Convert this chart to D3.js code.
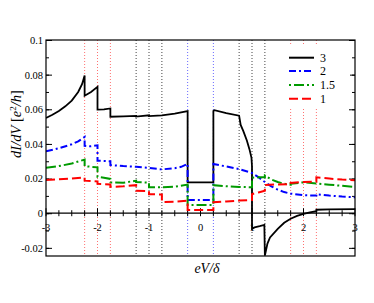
<html>
  <meta charset="utf-8" />
  <script src="https://d3js.org/d3.v7.min.js"></script>
  <style>
    body { margin: 0; background: #fff; }
    text { font-family: "Liberation Serif", "DejaVu Serif", serif; }
  </style>
  <body>
    <svg width="374" height="303" id="chart"></svg>

    <script>
      // series: [eV/delta, dI/dV]
      const black3 = [
        [-3, 0.055], [-2.875, 0.0568], [-2.75, 0.059], [-2.625, 0.0617], [-2.5, 0.065],
        [-2.375, 0.07], [-2.3, 0.0745], [-2.25, 0.0795],
        [-2.25, 0.0678], [-2.125, 0.07], [-2, 0.073],
        [-2, 0.0598], [-1.875, 0.06], [-1.75, 0.0605],
        [-1.75, 0.0557], [-1.5, 0.0559], [-1.25, 0.0562], [-1.25, 0.0558], [-1, 0.0565],
        [-1, 0.0561], [-0.75, 0.0565], [-0.5, 0.0575], [-0.25, 0.059],
        [-0.25, 0.0178], [0.25, 0.0178],
        [0.25, 0.059], [0.27, 0.0595], [0.5, 0.0578], [0.75, 0.0563],
        [0.78, 0.051], [0.83, 0.0475], [0.9, 0.042], [0.95, 0.037], [0.99, 0.032], [1.0, 0.027],
        [1.0, -0.009], [1.05, -0.0082], [1.15, -0.0075], [1.24, -0.0068],
        [1.25, -0.0245], [1.3, -0.0175], [1.35, -0.014], [1.5, -0.009], [1.625, -0.0055],
        [1.75, -0.0032], [1.875, -0.0015], [2, -0.0004], [2.125, 0.0005], [2.25, 0.0012],
        [2.25, 0.002], [2.5, 0.0022], [3, 0.0024]
      ];
      const blue2 = [
        [-3, 0.0357], [-2.75, 0.0375], [-2.5, 0.0398], [-2.375, 0.0415], [-2.25, 0.044],
        [-2.25, 0.0389], [-2.125, 0.0386], [-2, 0.0392],
        [-2, 0.0303], [-1.875, 0.0302], [-1.75, 0.03],
        [-1.75, 0.0278], [-1.5, 0.0272], [-1.25, 0.0268], [-1, 0.0261], [-0.75, 0.0253],
        [-0.5, 0.026], [-0.375, 0.0268], [-0.25, 0.0285],
        [-0.25, 0.0077], [0.25, 0.0077],
        [0.25, 0.0284], [0.5, 0.027], [0.75, 0.0255], [1, 0.0232], [1.125, 0.0208],
        [1.25, 0.018], [1.375, 0.0155], [1.5, 0.0136], [1.625, 0.0122], [1.75, 0.0113],
        [2, 0.0104], [2.25, 0.0102], [2.25, 0.011], [2.5, 0.0102], [2.75, 0.0096], [3, 0.0092]
      ];
      const green15 = [
        [-3, 0.0262], [-2.75, 0.0272], [-2.5, 0.0287], [-2.25, 0.031],
        [-2.25, 0.0272], [-2.125, 0.0268], [-2, 0.0265],
        [-2, 0.021], [-1.875, 0.0205], [-1.75, 0.0198],
        [-1.75, 0.0178], [-1.5, 0.0176], [-1.25, 0.0188],
        [-1.25, 0.018], [-1, 0.0177],
        [-1, 0.015], [-0.75, 0.015], [-0.5, 0.0153], [-0.25, 0.0165],
        [-0.25, 0.0048], [0.25, 0.0048],
        [0.25, 0.0162], [0.5, 0.0156], [0.75, 0.0152], [1, 0.015],
        [1, 0.0205], [1.125, 0.0207], [1.25, 0.0208], [1.25, 0.0218], [1.375, 0.0195],
        [1.5, 0.018], [1.625, 0.017], [1.75, 0.0164], [1.75, 0.017], [2, 0.0178],
        [2.25, 0.0172], [2.5, 0.0165], [2.75, 0.0158], [3, 0.0152]
      ];
      const red1 = [
        [-3, 0.0192], [-2.75, 0.0196], [-2.5, 0.02], [-2.25, 0.0207],
        [-2.25, 0.0188], [-2.125, 0.0186], [-2, 0.0184],
        [-2, 0.017], [-1.875, 0.0168], [-1.75, 0.0166],
        [-1.75, 0.0152], [-1.5, 0.0155], [-1.25, 0.0162],
        [-1.25, 0.013], [-1, 0.0128],
        [-1, 0.011], [-0.75, 0.0108],
        [-0.75, 0.0065], [-0.5, 0.0066], [-0.25, 0.0072],
        [-0.25, 0.0018], [0.25, 0.0018],
        [0.25, 0.0064], [0.5, 0.0068], [0.75, 0.0073], [1, 0.0076],
        [1, 0.011], [1.125, 0.012], [1.25, 0.013], [1.25, 0.0163], [1.5, 0.0166],
        [1.75, 0.0168], [1.75, 0.0175], [2, 0.018], [2.25, 0.0182],
        [2.25, 0.0207], [2.5, 0.02], [2.75, 0.0194], [3, 0.019]
      ];

      const seriesNames = ["3", "2", "1.5", "1"];
      const seriesData = [black3, blue2, green15, red1];
      const seriesColors = ["#000000", "#0000ff", "#009a00", "#ff0000"];
      const seriesDash = ["none", "7,3,2,3", "10,3,2,3", "9,4"];

      const redMarks = [-2.25, -2, -1.75, 1.75, 2, 2.25];
      const blackMarks = [-1.25, -1, -0.75, 0.75, 1, 1.25];
      const blueMarks = [-0.25, 0.25];

      const xTicks = [-3, -2, -1, 0, 1, 2, 3];
      const yTicks = [-0.02, 0, 0.02, 0.04, 0.06, 0.08, 0.1];

      const mLeft = 46, mRight = 355, mTop = 40, mBottom = 256;

      const x = d3.scaleLinear().domain([-3, 3]).range([mLeft, mRight]);
      const y = d3.scaleLinear().domain([-0.0247, 0.1]).range([mBottom, mTop]);

      const svg = d3.select("#chart");

      svg.append("defs").append("clipPath").attr("id", "clip")
        .append("rect")
        .attr("x", mLeft).attr("y", mTop)
        .attr("width", mRight - mLeft).attr("height", mBottom - mTop);

      // dotted guide lines
      const guides = [
        [redMarks, "#ff7070"],
        [blackMarks, "#444"],
        [blueMarks, "#6a6aff"]
      ];
      guides.forEach(([vals, col]) => {
        svg.append("g")
          .selectAll("line")
          .data(vals)
          .enter()
          .append("line")
          .attr("x1", (d) => x(d)).attr("x2", (d) => x(d))
          .attr("y1", mTop).attr("y2", mBottom)
          .attr("stroke", col)
          .attr("stroke-width", 1)
          .attr("stroke-dasharray", "1,2");
      });

      // left and right axes, ticks pointing in
      const fmt = (d) => String(+d.toFixed(2));
      const minorY = d3.range(-0.02, 0.1001, 0.01);

      const leftAxis = svg.append("g")
        .attr("transform", `translate(${mLeft},0)`)
        .call(d3.axisLeft(y).tickValues(yTicks).tickSizeInner(-6).tickSizeOuter(0).tickPadding(3).tickFormat(fmt));
      leftAxis.select(".domain").remove();
      leftAxis.selectAll("text").attr("font-size", 10.5).attr("fill", "#000");

      svg.append("g")
        .attr("transform", `translate(${mLeft},0)`)
        .call(d3.axisLeft(y).tickValues(minorY).tickSizeInner(-3).tickSizeOuter(0).tickFormat(""))
        .select(".domain").remove();

      const rightAxis = svg.append("g")
        .attr("transform", `translate(${mRight},0)`)
        .call(d3.axisRight(y).tickValues(yTicks).tickSizeInner(-6).tickSizeOuter(0).tickFormat(""));
      rightAxis.select(".domain").remove();
      svg.append("g")
        .attr("transform", `translate(${mRight},0)`)
        .call(d3.axisRight(y).tickValues(minorY).tickSizeInner(-3).tickSizeOuter(0).tickFormat(""))
        .select(".domain").remove();

      // x axis through zero
      const y0 = y(0);
      svg.append("line")
        .attr("x1", mLeft).attr("x2", mRight)
        .attr("y1", y0).attr("y2", y0)
        .attr("stroke", "#000").attr("stroke-width", 1.2);

      const minorX = d3.range(-3, 3.001, 0.25);
      svg.append("g")
        .selectAll("line")
        .data(minorX)
        .enter()
        .append("line")
        .attr("x1", (d) => x(d)).attr("x2", (d) => x(d))
        .attr("y1", (d) => (Number.isInteger(d) ? y0 - 5 : y0 - 3))
        .attr("y2", y0 + 3)
        .attr("stroke", "#000").attr("stroke-width", 1);

      svg.append("g")
        .selectAll("text")
        .data(xTicks)
        .enter()
        .append("text")
        .attr("x", (d) => x(d))
        .attr("y", y0 + 18)
        .attr("text-anchor", "middle")
        .attr("font-size", 10.5)
        .text((d) => String(d));

      // curves
      const line = d3.line().x((d) => x(d[0])).y((d) => y(d[1]));
      const plot = svg.append("g").attr("clip-path", "url(#clip)");
      seriesData.forEach((s, i) => {
        plot.append("path")
          .datum(s)
          .attr("d", line)
          .attr("fill", "none")
          .attr("stroke", seriesColors[i])
          .attr("stroke-width", i === 0 ? 1.8 : 2)
          .attr("stroke-dasharray", seriesDash[i]);
      });

      // legend
      const legend = svg.append("g");
      legend.append("rect")
        .attr("x", 284).attr("y", 46)
        .attr("width", 66).attr("height", 63)
        .attr("fill", "#fff");
      const rowY = [57.7, 71, 85, 98.7];
      seriesNames.forEach((name, i) => {
        legend.append("line")
          .attr("x1", 289).attr("x2", 314)
          .attr("y1", rowY[i]).attr("y2", rowY[i])
          .attr("stroke", seriesColors[i])
          .attr("stroke-width", 2)
          .attr("stroke-dasharray", seriesDash[i])
          .attr("stroke-dashoffset", i === 2 ? 13 : 0);
        legend.append("text")
          .attr("x", 320).attr("y", rowY[i] + 4)
          .attr("font-size", 12)
          .text(name);
      });

      // frame
      svg.append("rect")
        .attr("x", mLeft).attr("y", mTop)
        .attr("width", mRight - mLeft).attr("height", mBottom - mTop)
        .attr("fill", "none")
        .attr("stroke", "#000").attr("stroke-width", 1.2);

      // axis titles
      const yl = svg.append("text")
        .attr("transform", "translate(21,124) rotate(-90)")
        .attr("text-anchor", "middle")
        .attr("font-size", 14.5);
      yl.append("tspan").attr("font-style", "italic").text("dI/dV");
      yl.append("tspan").text(" [");
      yl.append("tspan").attr("font-style", "italic").text("e");
      yl.append("tspan").attr("font-size", 9).attr("dy", -5).text("2");
      yl.append("tspan").attr("dy", 5).attr("font-style", "italic").text("/h");
      yl.append("tspan").text("]");

      svg.append("text")
        .attr("x", 207).attr("y", 273)
        .attr("text-anchor", "middle")
        .attr("font-size", 14)
        .attr("font-style", "italic")
        .text("eV/δ");
    </script>
  </body>
</html>
